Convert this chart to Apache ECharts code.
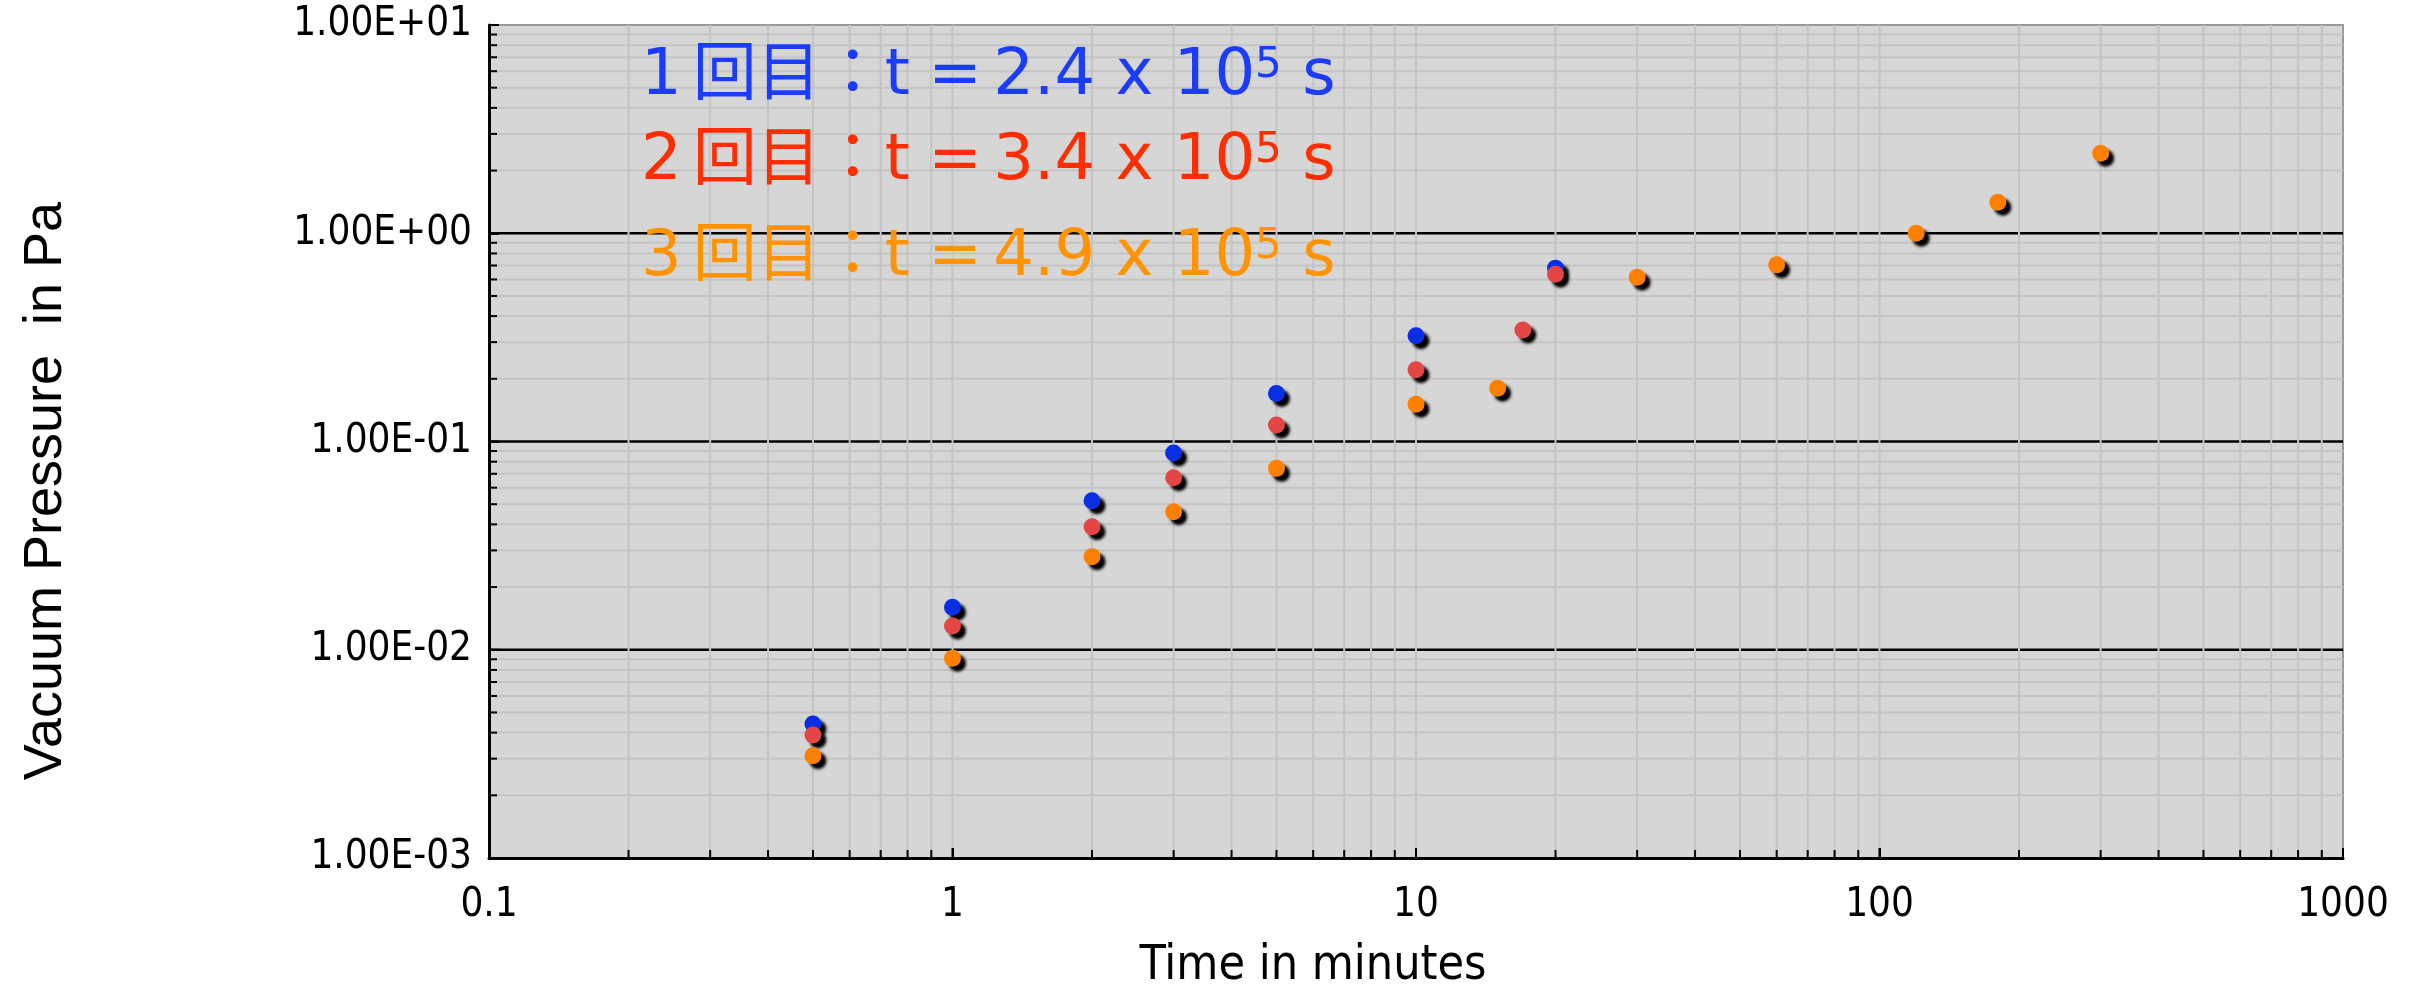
<!DOCTYPE html>
<html>
<head>
<meta charset="utf-8">
<script src="https://cdn.jsdelivr.net/npm/echarts@6/dist/echarts.min.js"></script>
<style>
html,body{margin:0;padding:0;background:#fff;}
#chart{width:2419px;height:993px;}
</style>
</head>
<body>
<div id="chart"></div>
<script>
// ---- data ----
const run1Time = [0.5, 1, 2, 3, 5, 10, 20];
const run1Pressure = [4.4e-3, 1.6e-2, 5.2e-2, 8.8e-2, 0.170, 0.322, 0.68];
const run2Time = [0.5, 1, 2, 3, 5, 10, 17, 20];
const run2Pressure = [3.9e-3, 1.3e-2, 3.9e-2, 6.7e-2, 0.120, 0.221, 0.343, 0.635];
const run3Time = [0.5, 1, 2, 3, 5, 10, 15, 30, 60, 120, 180, 300];
const run3Pressure = [3.1e-3, 9.1e-3, 2.8e-2, 4.6e-2, 0.0743, 0.151, 0.180, 0.614, 0.705, 1.0, 1.41, 2.42];

const legendRuns = ['1', '2', '3'];
const legendMantissa = ['2.4', '3.4', '4.9'];
const legendExp = '5';
const xTickLabels = ['0.1', '1', '10', '100', '1000'];
const yTickLabels = ['1.00E-03', '1.00E-02', '1.00E-01', '1.00E+00', '1.00E+01'];
const xAxisName = 'Time in minutes';
const yAxisName = 'Vacuum Pressure  in Pa';

const xMin = 0.1, xMax = 1000, yMin = 0.001, yMax = 10;

// grid line positions on log axes (2..9 x 10^k, plus decades)
const xGridValues = [];
for (let k = -1; k <= 2; k++) {
  for (let m = 1; m <= 9; m++) {
    const v = +(m * Math.pow(10, k)).toPrecision(6);
    if (v > xMin && v < xMax) xGridValues.push(v);
  }
}
const yMinorValues = [];
const yMajorValues = [];
for (let k = -3; k <= 0; k++) {
  for (let m = 1; m <= 9; m++) {
    const v = +(m * Math.pow(10, k)).toPrecision(6);
    if (v <= yMin || v >= yMax) continue;
    if (m === 1) yMajorValues.push(v); else yMinorValues.push(v);
  }
}

const colors = {
  run1: '#0a2ee4', run2: '#e44545', run3: '#ff8000',
  text1: '#1b3cff', text2: '#ff2d00', text3: '#ff9400'
};

const tickFont = '"DejaVu Sans Condensed", "Liberation Sans", sans-serif';
const legendFont = '"DejaVu Sans", "Noto Sans CJK JP", sans-serif';

function zip(a, b) { return a.map((v, i) => [v, b[i]]); }

function fmtY(v) {
  const e = Math.round(Math.log10(v));
  const s = e < 0 ? '-' : '+';
  const a = Math.abs(e);
  return '1.00E' + s + (a < 10 ? '0' + a : '' + a);
}
function fmtX(v) {
  return String(+(+v).toPrecision(6));
}

const chart = echarts.init(document.getElementById('chart'), null, {renderer: 'canvas'});

const shadow = {shadowColor: 'rgba(0,0,0,1)', shadowBlur: 3, shadowOffsetX: 5, shadowOffsetY: 5};

function hLine(color, width, tickLen) {
  return function (params, api) {
    const cs = params.coordSys;
    const y = api.coord([xMin, api.value(1)])[1];
    const children = [{
      type: 'line',
      shape: {x1: cs.x, y1: y, x2: cs.x + cs.width, y2: y},
      style: {stroke: color, lineWidth: width}
    }];
    if (tickLen) {
      children.push({
        type: 'line',
        shape: {x1: cs.x, y1: y, x2: cs.x + tickLen, y2: y},
        style: {stroke: '#000', lineWidth: 2}
      });
    }
    return {type: 'group', children: children};
  };
}
function vLine(params, api) {
  const cs = params.coordSys;
  const x = api.coord([api.value(0), yMin])[0];
  const isMajor = Math.abs(Math.log10(api.value(0)) - Math.round(Math.log10(api.value(0)))) < 1e-6;
  return {
    type: 'group',
    children: [{
      type: 'line',
      shape: {x1: x, y1: cs.y, x2: x, y2: cs.y + cs.height},
      style: {stroke: '#c4c4c4', lineWidth: 2}
    }, {
      type: 'line',
      shape: {x1: x, y1: cs.y + cs.height, x2: x, y2: cs.y + cs.height - (isMajor ? 10 : 8)},
      style: {stroke: '#000', lineWidth: 2}
    }]
  };
}

const legendTops = [77, 162, 258];
const legendColors = [colors.text1, colors.text2, colors.text3];

const option = {
  animation: false,
  backgroundColor: '#ffffff',
  grid: {
    left: 489, right: 76, top: 25, bottom: 135,
    show: true, backgroundColor: '#d6d6d6', borderColor: '#9a9a9a', borderWidth: 2
  },
  xAxis: {
    type: 'log', logBase: 10, min: xMin, max: xMax, z: 5,
    axisLine: {show: true, lineStyle: {color: '#000', width: 3}},
    axisTick: {show: true, inside: true, length: 10, lineStyle: {color: '#000', width: 2}},
    splitLine: {show: false},
    axisLabel: {
      margin: 28, fontSize: 40, color: '#000', fontFamily: tickFont,
      formatter: function (v) {
        const i = Math.round(Math.log10(v) + 1);
        return xTickLabels[i] !== undefined ? xTickLabels[i] : fmtX(v);
      }
    }
  },
  yAxis: {
    type: 'log', logBase: 10, min: yMin, max: yMax, z: 5,
    axisLine: {show: true, lineStyle: {color: '#000', width: 3}},
    axisTick: {show: true, inside: true, length: 10, lineStyle: {color: '#000', width: 2}},
    splitLine: {show: false},
    axisLabel: {
      margin: 17, fontSize: 40, color: '#000', fontFamily: tickFont,
      formatter: function (v) {
        const i = Math.round(Math.log10(v) + 3);
        return yTickLabels[i] !== undefined ? yTickLabels[i] : fmtY(v);
      }
    }
  },
  series: [
    {type: 'custom', z: 1, silent: true, renderItem: hLine('#c4c4c4', 2, 8),
      data: yMinorValues.map(v => [xMin, v])},
    {type: 'custom', z: 2, silent: true, renderItem: hLine('#000', 2.5, 10),
      data: yMajorValues.map(v => [xMin, v])},
    {type: 'custom', z: 3, silent: true, renderItem: vLine,
      data: xGridValues.map(v => [v, yMin])},
    {type: 'scatter', name: 'run1', z: 10, symbol: 'circle', symbolSize: 17,
      itemStyle: Object.assign({color: colors.run1, opacity: 1}, shadow),
      data: zip(run1Time, run1Pressure)},
    {type: 'scatter', name: 'run2', z: 10, symbol: 'circle', symbolSize: 17,
      itemStyle: Object.assign({color: colors.run2, opacity: 1}, shadow),
      data: zip(run2Time, run2Pressure)},
    {type: 'scatter', name: 'run3', z: 10, symbol: 'circle', symbolSize: 17,
      itemStyle: Object.assign({color: colors.run3, opacity: 1}, shadow),
      data: zip(run3Time, run3Pressure)}
  ],
  graphic: [
    {
      type: 'text', x: 1313, y: 967, z: 20,
      style: {text: xAxisName, fontSize: 48, fontFamily: tickFont, fill: '#000',
        align: 'center', verticalAlign: 'middle'}
    },
    {
      type: 'text', x: 46, y: 491, rotation: Math.PI / 2, z: 20,
      style: {text: yAxisName, fontSize: 54, fontFamily: 'Liberation Sans', fill: '#000',
        align: 'center', verticalAlign: 'middle'}
    }
  ].concat(legendRuns.map(function (run, i) {
    const c = legendColors[i];
    return {
      type: 'text', x: 641, y: legendTops[i], z: 20,
      style: {
        text: '{n|' + run + '}回目：t{s1| }={s2| }' + legendMantissa[i] + ' x 10{sup|' + legendExp + '} s',
        fontSize: 64, fontFamily: legendFont, fill: c,
        verticalAlign: 'middle', align: 'left',
        rich: {
          n: {fontSize: 64, fontFamily: legendFont, fill: c, padding: [0, 11, 0, 0]},
          s1: {fontSize: 58, fontFamily: legendFont, fill: c},
          s2: {fontSize: 36, fontFamily: legendFont, fill: c},
          sup: {fontSize: 42, fontFamily: legendFont, fill: c, verticalAlign: 'top'}
        }
      }
    };
  }))
};

chart.setOption(option);
</script>
</body>
</html>
